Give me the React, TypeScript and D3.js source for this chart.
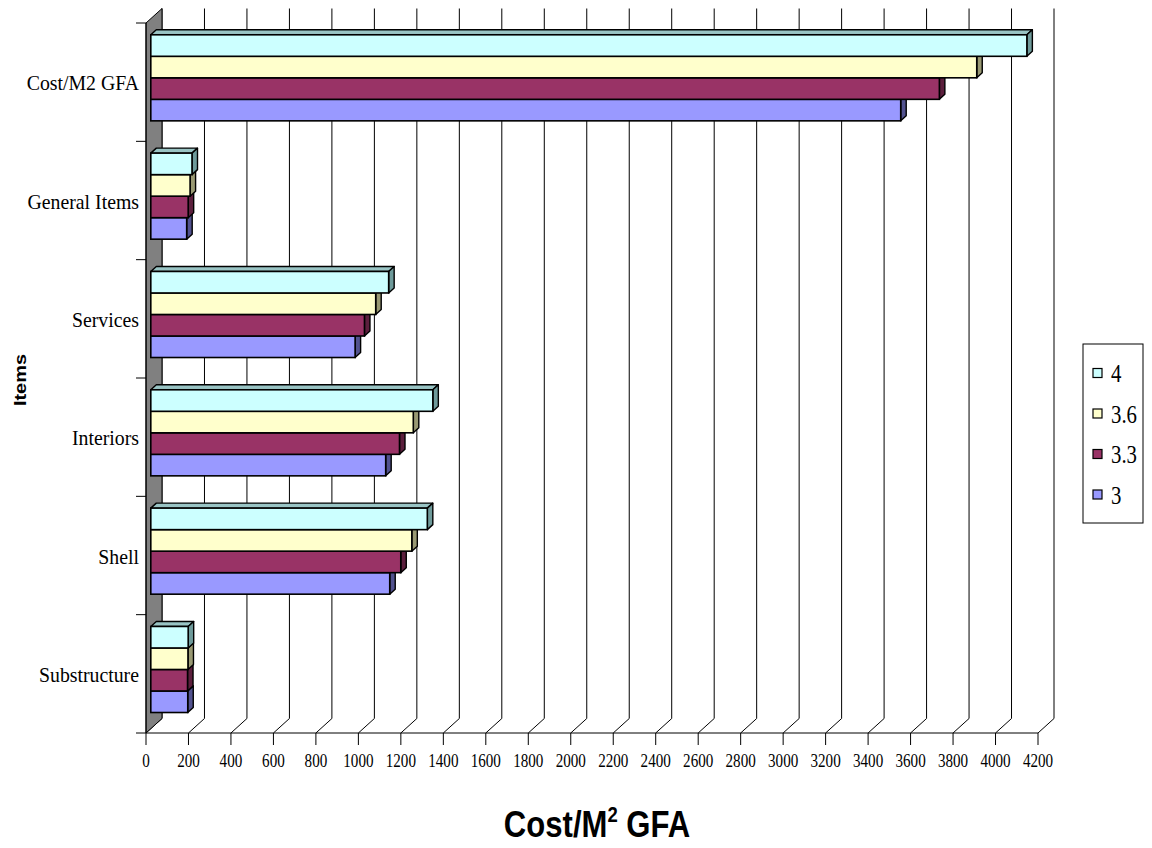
import React from 'react';
import * as d3 from 'd3';

const categories = ['Cost/M2 GFA', 'General Items', 'Services', 'Interiors', 'Shell', 'Substructure'];
const seriesNames = ['4', '3.6', '3.3', '3'];
const values4 = [4125, 194, 1120, 1328, 1302, 176];
const values36 = [3889, 185, 1059, 1236, 1229, 175];
const values33 = [3713, 176, 1006, 1171, 1177, 173];
const values3 = [3531, 169, 962, 1106, 1125, 174];
const xTicks = d3.range(0, 4201, 200);

const seriesValues: Record<string, number[]> = { '4': values4, '3.6': values36, '3.3': values33, '3': values3 };
const frontColor: Record<string, string> = { '4': '#CCFFFF', '3.6': '#FFFFCC', '3.3': '#993366', '3': '#9999FF' };
const topColor: Record<string, string> = { '4': '#99C4C4', '3.6': '#C4C499', '3.3': '#73264D', '3': '#7373C4' };
const sideColor: Record<string, string> = { '4': '#6E9A9A', '3.6': '#999973', '3.3': '#5C1F3D', '3': '#52528F' };

const SX = 0.84;

export default function App() {
  const W = 1152, H = 848;
  const x = d3.scaleLinear().domain([0, 4200]).range([146, 1038]);
  const y = d3.scaleBand<string>().domain(categories).range([23, 733]).paddingInner(0).paddingOuter(0);
  const floorY = 733, topY = 23;
  const dX = 16, dY = 14.5;
  const barOff = 0.3;
  const bDX = 5.5, bDY = 5;
  const band = y.bandwidth();
  const bw = band / 5.5;
  const inner = d3.scaleBand<string>().domain(seriesNames).range([0, 4 * bw]);

  const bars: JSX.Element[] = [];
  categories.forEach((c, ci) => {
    const groupTop = (y(c) as number) + (band - 4 * bw) / 2 - barOff * dY;
    const shiftX = barOff * dX;
    [...seriesNames].reverse().forEach((s) => {
      const v = seriesValues[s][ci];
      const x0 = x(0) + shiftX;
      const x1 = x(v) + shiftX;
      const yt = groupTop + (inner(s) as number);
      const yb = yt + bw;
      const topPts = `${x0},${yt} ${x0 + bDX},${yt - bDY} ${x1 + bDX},${yt - bDY} ${x1},${yt}`;
      const sidePts = `${x1},${yt} ${x1 + bDX},${yt - bDY} ${x1 + bDX},${yb - bDY} ${x1},${yb}`;
      bars.push(
        <g key={`${c}-${s}`}>
          <polygon points={topPts} fill={topColor[s]} stroke="#000" strokeWidth={1.4} strokeLinejoin="round" />
          <polygon points={sidePts} fill={sideColor[s]} stroke="#000" strokeWidth={1.4} strokeLinejoin="round" />
          <rect x={x0} y={yt} width={x1 - x0} height={bw} fill={frontColor[s]} stroke="#000" strokeWidth={1.6} />
        </g>
      );
    });
  });

  const catBounds = [...categories.map((c) => y(c) as number), floorY];

  return (
    <div style={{ position: 'fixed', left: 0, top: 0 }}>
      <svg width={W} height={H} style={{ display: 'block', background: '#fff' }}>
        {xTicks.map((t) => (
          <g key={`g${t}`}>
            <line x1={x(t) + dX} y1={floorY - dY} x2={x(t) + dX} y2={topY - dY} stroke="#000" strokeWidth={1} />
            <line x1={x(t)} y1={floorY} x2={x(t) + dX} y2={floorY - dY} stroke="#000" strokeWidth={1} />
          </g>
        ))}
        <polygon
          points={`${x(0)},${floorY} ${x(0)},${topY} ${x(0) + dX},${topY - dY} ${x(0) + dX},${floorY - dY}`}
          fill="#808080"
          stroke="#000"
          strokeWidth={1}
        />
        <line x1={x(0)} y1={floorY} x2={x(4200)} y2={floorY} stroke="#000" strokeWidth={1} />
        <line x1={x(0)} y1={topY} x2={x(0)} y2={floorY} stroke="#000" strokeWidth={1} />
        {catBounds.map((b, i) => (
          <line key={`ct${i}`} x1={x(0) - 10} y1={b} x2={x(0)} y2={b} stroke="#000" strokeWidth={1} />
        ))}
        {xTicks.map((t) => (
          <g key={`t${t}`}>
            <line x1={x(t)} y1={floorY} x2={x(t)} y2={floorY + 12} stroke="#000" strokeWidth={1} />
            <text
              transform={`translate(${x(t)},${floorY + 34}) scale(${SX},1)`}
              textAnchor="middle"
              fontFamily="'Liberation Serif', 'Times New Roman', serif"
              fontSize={18}
              fill="#000"
            >
              {t}
            </text>
          </g>
        ))}
        {bars}
        {categories.map((c) => (
          <text
            key={`cl${c}`}
            transform={`translate(139,${(y(c) as number) + band / 2 + 8}) scale(0.9,1)`}
            textAnchor="end"
            fontFamily="'Liberation Serif', 'Times New Roman', serif"
            fontSize={22}
            fill="#000"
          >
            {c}
          </text>
        ))}
        <text
          transform={`translate(26,380) scale(${SX},1) rotate(-90)`}
          textAnchor="middle"
          fontFamily="'Liberation Sans', Arial, sans-serif"
          fontWeight="bold"
          fontSize={20}
          fill="#000"
        >
          Items
        </text>
        <text
          transform={`translate(597,837) scale(${SX},1)`}
          textAnchor="middle"
          fontFamily="'Liberation Sans', Arial, sans-serif"
          fontWeight="bold"
          fontSize={37}
          fill="#000"
        >
          Cost/M
          <tspan fontSize={22} dy={-15}>2</tspan>
          <tspan dy={15}> GFA</tspan>
        </text>
        <rect x={1083} y={344} width={60} height={179} fill="#fff" stroke="#000" strokeWidth={1} />
        {seriesNames.map((s, i) => {
          const cy = 373 + i * 40.5;
          return (
            <g key={`lg${s}`}>
              <rect x={1093} y={cy - 4.5} width={9} height={9} fill={frontColor[s]} stroke="#000" strokeWidth={1.2} />
              <text
                transform={`translate(1111,${cy + 9}) scale(0.8,1)`}
                fontFamily="'Liberation Serif', 'Times New Roman', serif"
                fontSize={26}
                fill="#000"
              >
                {s}
              </text>
            </g>
          );
        })}
      </svg>
    </div>
  );
}
